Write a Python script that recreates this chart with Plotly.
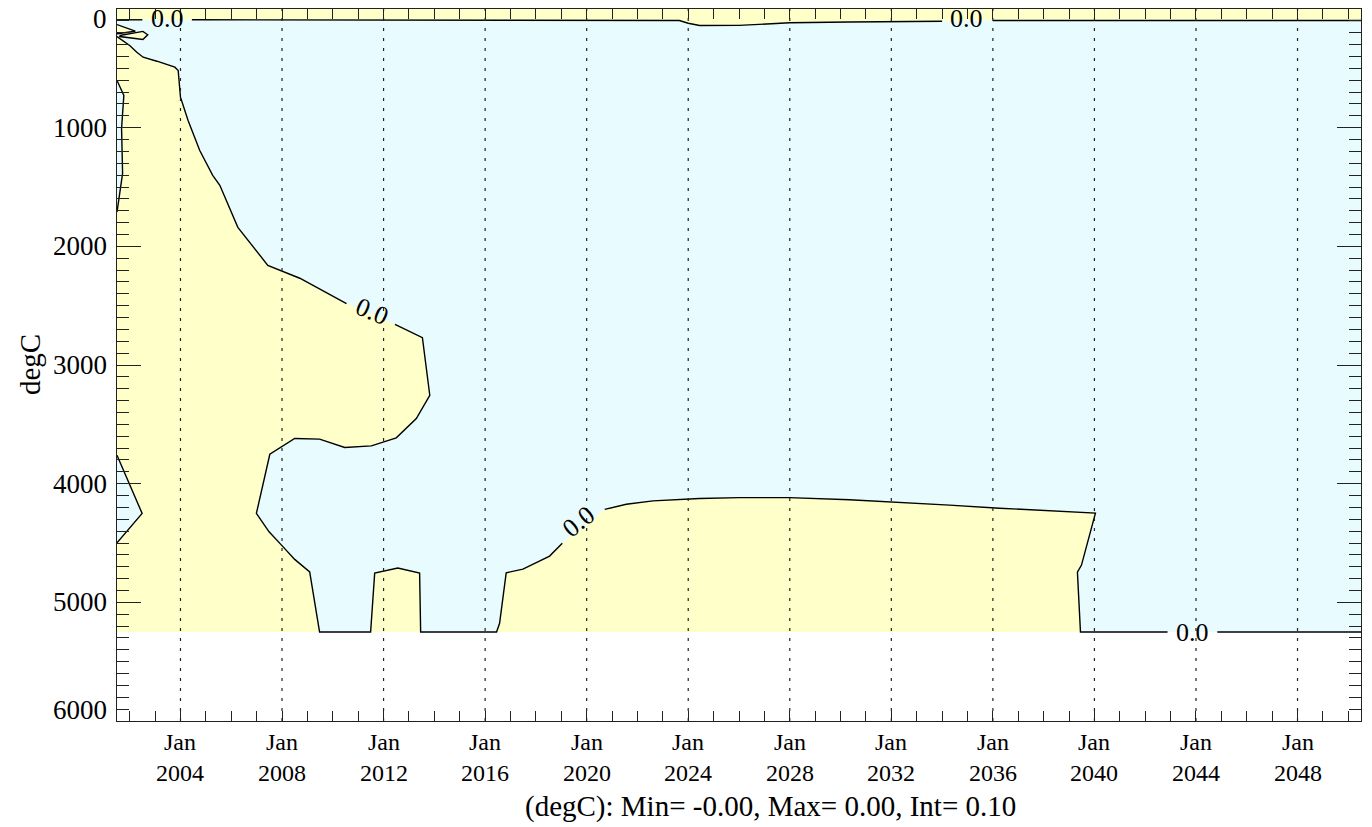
import plotly.graph_objects as go

# ---------------- data (decimal years, depth) ----------------
YEAR_MIN, YEAR_MAX = 2001.5, 2050.5
DEPTH_BOTTOM = 5250
AXIS_DEPTH_MAX = 6000

# upper 0.0 contour (surface layer), None = gap for the label
top_years = [2001.5, 2002.5, None, 2004.45, 2012.6, 2020.5, 2023.65, 2024.0, 2024.45,
             2026.0, 2027.6, 2028.0, 2030.35, 2032.0, 2034.0, None, 2036.0, 2040.2, 2050.5]
top_depths = [91, 91, None, 91, 93, 93, 97, 120, 139,
              138, 125, 116, 109, 105, 103, None, 97, 97, 97]

# main 0.0 contour bounding the positive (yellow) region
main_years = [2001.5, 2002.0, 2002.28, 2002.53, 2003.07, 2003.78, 2003.91, 2004.0, 2004.3,
              2004.76, 2005.27, 2005.55, 2006.26, 2006.81, 2007.44, 2008.7, 2010.54, None,
              2012.45, 2013.53, 2013.82, 2013.29, 2012.5, 2011.52, 2010.47, 2009.48, 2008.5,
              2007.52, 2006.99, 2007.49, 2007.98, 2008.5, 2009.09, 2009.48, 2011.49, 2011.65,
              2012.56, 2013.42, 2013.46, 2016.45, 2016.57, 2016.83, 2017.49, 2018.54, 2019.04,
              None, 2020.71, 2021.56, 2022.61, 2023.66, 2024.44, 2026.02, 2027.98, 2030.35,
              2032.32, 2034.29, 2036.26, 2038.23, 2040.04, 2039.49, 2039.33, 2039.45, 2042.88,
              None, 2044.84, 2050.5]
main_depths = [232, 307, 364, 406, 440, 490, 518, 743, 939,
               1192, 1402, 1486, 1840, 1992, 2160, 2269, 2482, None,
               2657, 2769, 3255, 3451, 3614, 3682, 3695, 3625, 3619,
               3752, 4251, 4406, 4518, 4638, 4743, 5250, 5250, 4754,
               4711, 4754, 5250, 5250, 5177, 4751, 4720, 4610, 4503,
               None, 4217, 4173, 4145, 4130, 4125, 4118, 4118, 4135,
               4156, 4181, 4207, 4227, 4248, 4686, 4745, 5250, 5250,
               None, 5250, 5250]

# small negative (cyan) pockets at the western edge
sliver1_years = [2001.5, 2001.77, 2001.68, 2001.72, 2001.5]
sliver1_depths = [602, 728, 1006, 1385, 1711]
sliver2_years = [2001.5, 2002.49, 2001.5]
sliver2_depths = [3760, 4251, 4498]

# small positive features near the surface
wedge_years = [2001.5, 2002.22, 2001.5]
wedge_depths = [131, 187, 209]
quad_years = [2001.61, 2002.52, 2002.71, 2002.52, 2001.61]
quad_depths = [223, 189, 217, 257, 232]

# contour labels
label_years = [2003.48, 2034.98, 2011.55, 2019.68, 2043.87]
label_depths = [80, 84, 2546, 4316, 5250]
label_angles = [0, 0, 23, -39, 0]
label_text = "0.0"

# axis ticks
tick_years = list(range(2004, 2049, 4))
tick_month = "Jan"
depth_ticks = [0, 1000, 2000, 3000, 4000, 5000, 6000]
y_title = "degC"
x_title = "(degC): Min= -0.00, Max= 0.00, Int= 0.10"

# ---------------- style ----------------
YELLOW = "#FFFFCA"
CYAN = "#E8FBFF"
FONT = "Liberation Serif"
FS = 27
AXC = "#222"


def no_gaps(xs, ys):
    pts = [(x, y) for x, y in zip(xs, ys) if x is not None]
    return [p[0] for p in pts], [p[1] for p in pts]


fig = go.Figure()

# negative background over the data domain
fig.add_trace(go.Scatter(
    x=[YEAR_MIN, YEAR_MAX, YEAR_MAX, YEAR_MIN],
    y=[0, 0, DEPTH_BOTTOM, DEPTH_BOTTOM],
    fill="toself", fillcolor=CYAN, line=dict(width=0), mode="lines",
    hoverinfo="skip", showlegend=False))

# positive region under the main contour
mx, my = no_gaps(main_years, main_depths)
fig.add_trace(go.Scatter(
    x=mx + [YEAR_MIN], y=my + [DEPTH_BOTTOM],
    fill="toself", fillcolor=YELLOW, line=dict(width=0), mode="lines",
    hoverinfo="skip", showlegend=False))

# positive surface layer
tx, ty = no_gaps(top_years, top_depths)
fig.add_trace(go.Scatter(
    x=tx + [YEAR_MAX, YEAR_MIN], y=ty + [0, 0],
    fill="toself", fillcolor=YELLOW, line=dict(width=0), mode="lines",
    hoverinfo="skip", showlegend=False))

# pockets
for xs, ys, col in [(sliver1_years, sliver1_depths, CYAN),
                    (sliver2_years, sliver2_depths, CYAN),
                    (wedge_years, wedge_depths, YELLOW),
                    (quad_years, quad_depths, YELLOW)]:
    fig.add_trace(go.Scatter(
        x=xs, y=ys, fill="toself", fillcolor=col, line=dict(width=0),
        mode="lines", hoverinfo="skip", showlegend=False))

# contour lines
LINE = dict(color="black", width=1.4)
for xs, ys in [(top_years, top_depths), (main_years, main_depths),
               (sliver1_years, sliver1_depths), (sliver2_years, sliver2_depths),
               (wedge_years, wedge_depths),
               (quad_years + quad_years[:1], quad_depths + quad_depths[:1])]:
    fig.add_trace(go.Scatter(x=xs, y=ys, mode="lines", line=LINE,
                             connectgaps=False, hoverinfo="skip", showlegend=False))

annotations = []
for yr, d, ang in zip(label_years, label_depths, label_angles):
    annotations.append(dict(x=yr, y=d, xref="x", yref="y", text=label_text,
                            showarrow=False, textangle=ang,
                            font=dict(family=FONT, size=26, color="black"),
                            xanchor="center", yanchor="middle"))

# x tick labels (two-line)
for yr in tick_years:
    annotations.append(dict(x=yr, y=0, xref="x", yref="paper",
                            text=f"{tick_month}<br>{yr}",
                            showarrow=False, yanchor="middle", xanchor="center",
                            yshift=-36, font=dict(family=FONT, size=24, color="black")))

# y tick labels
for d in depth_ticks:
    shift = 0
    if d == depth_ticks[0]:
        shift = -9.5
    elif d == depth_ticks[-1]:
        shift = 11
    annotations.append(dict(x=0, y=d, xref="paper", yref="y", text=str(d),
                            showarrow=False, xanchor="right", yanchor="middle",
                            xshift=-8, yshift=shift,
                            font=dict(family=FONT, size=FS, color="black")))

annotations.append(dict(x=0, y=0.5, xref="paper", yref="paper", text=y_title,
                        showarrow=False, textangle=-90, xanchor="center", yanchor="middle",
                        xshift=-87, font=dict(family=FONT, size=29, color="black")))
annotations.append(dict(x=0.5, y=0, xref="paper", yref="paper", text=x_title,
                        showarrow=False, xanchor="center", yanchor="middle",
                        xshift=31, yshift=-85, font=dict(family=FONT, size=29, color="black")))

# dotted lines at the labelled ticks, drawn above the fills
shapes = [dict(type="line", xref="x", yref="paper", x0=yr, x1=yr, y0=0, y1=1,
               layer="above", line=dict(color=AXC, width=1.2, dash="3px,7px"))
          for yr in tick_years]

fig.update_layout(
    width=1372, height=827,
    margin=dict(l=117, r=11, t=9, b=106, autoexpand=False),
    paper_bgcolor="white", plot_bgcolor="white",
    annotations=annotations, shapes=shapes,
    xaxis=dict(range=[YEAR_MIN, YEAR_MAX], tickmode="array", tickvals=tick_years,
               showticklabels=False, ticks="", showline=True, linecolor=AXC,
               linewidth=1, mirror="allticks", showgrid=False, automargin=False,
               zeroline=False, layer="above traces",
               minor=dict(tickmode="linear", tick0=2000, dtick=1, ticks="inside",
                          ticklen=10, tickcolor=AXC, tickwidth=1, showgrid=False)),
    yaxis=dict(range=[AXIS_DEPTH_MAX, 0], tickmode="linear", tick0=0, dtick=1000,
               showticklabels=False, ticks="inside", ticklen=24, tickcolor=AXC,
               tickwidth=1, showline=True, linecolor=AXC, linewidth=1, automargin=False,
               mirror="allticks", showgrid=False, zeroline=False, layer="above traces",
               minor=dict(tickmode="linear", tick0=0, dtick=100, ticks="inside",
                          ticklen=12, tickcolor=AXC, tickwidth=1, showgrid=False)),
)

# remove the browser's default page margin so the figure fills the window exactly
fig.write_html("out.html", config={"displayModeBar": False},
               post_script="document.body.style.margin='0';document.body.style.overflow='hidden';")
